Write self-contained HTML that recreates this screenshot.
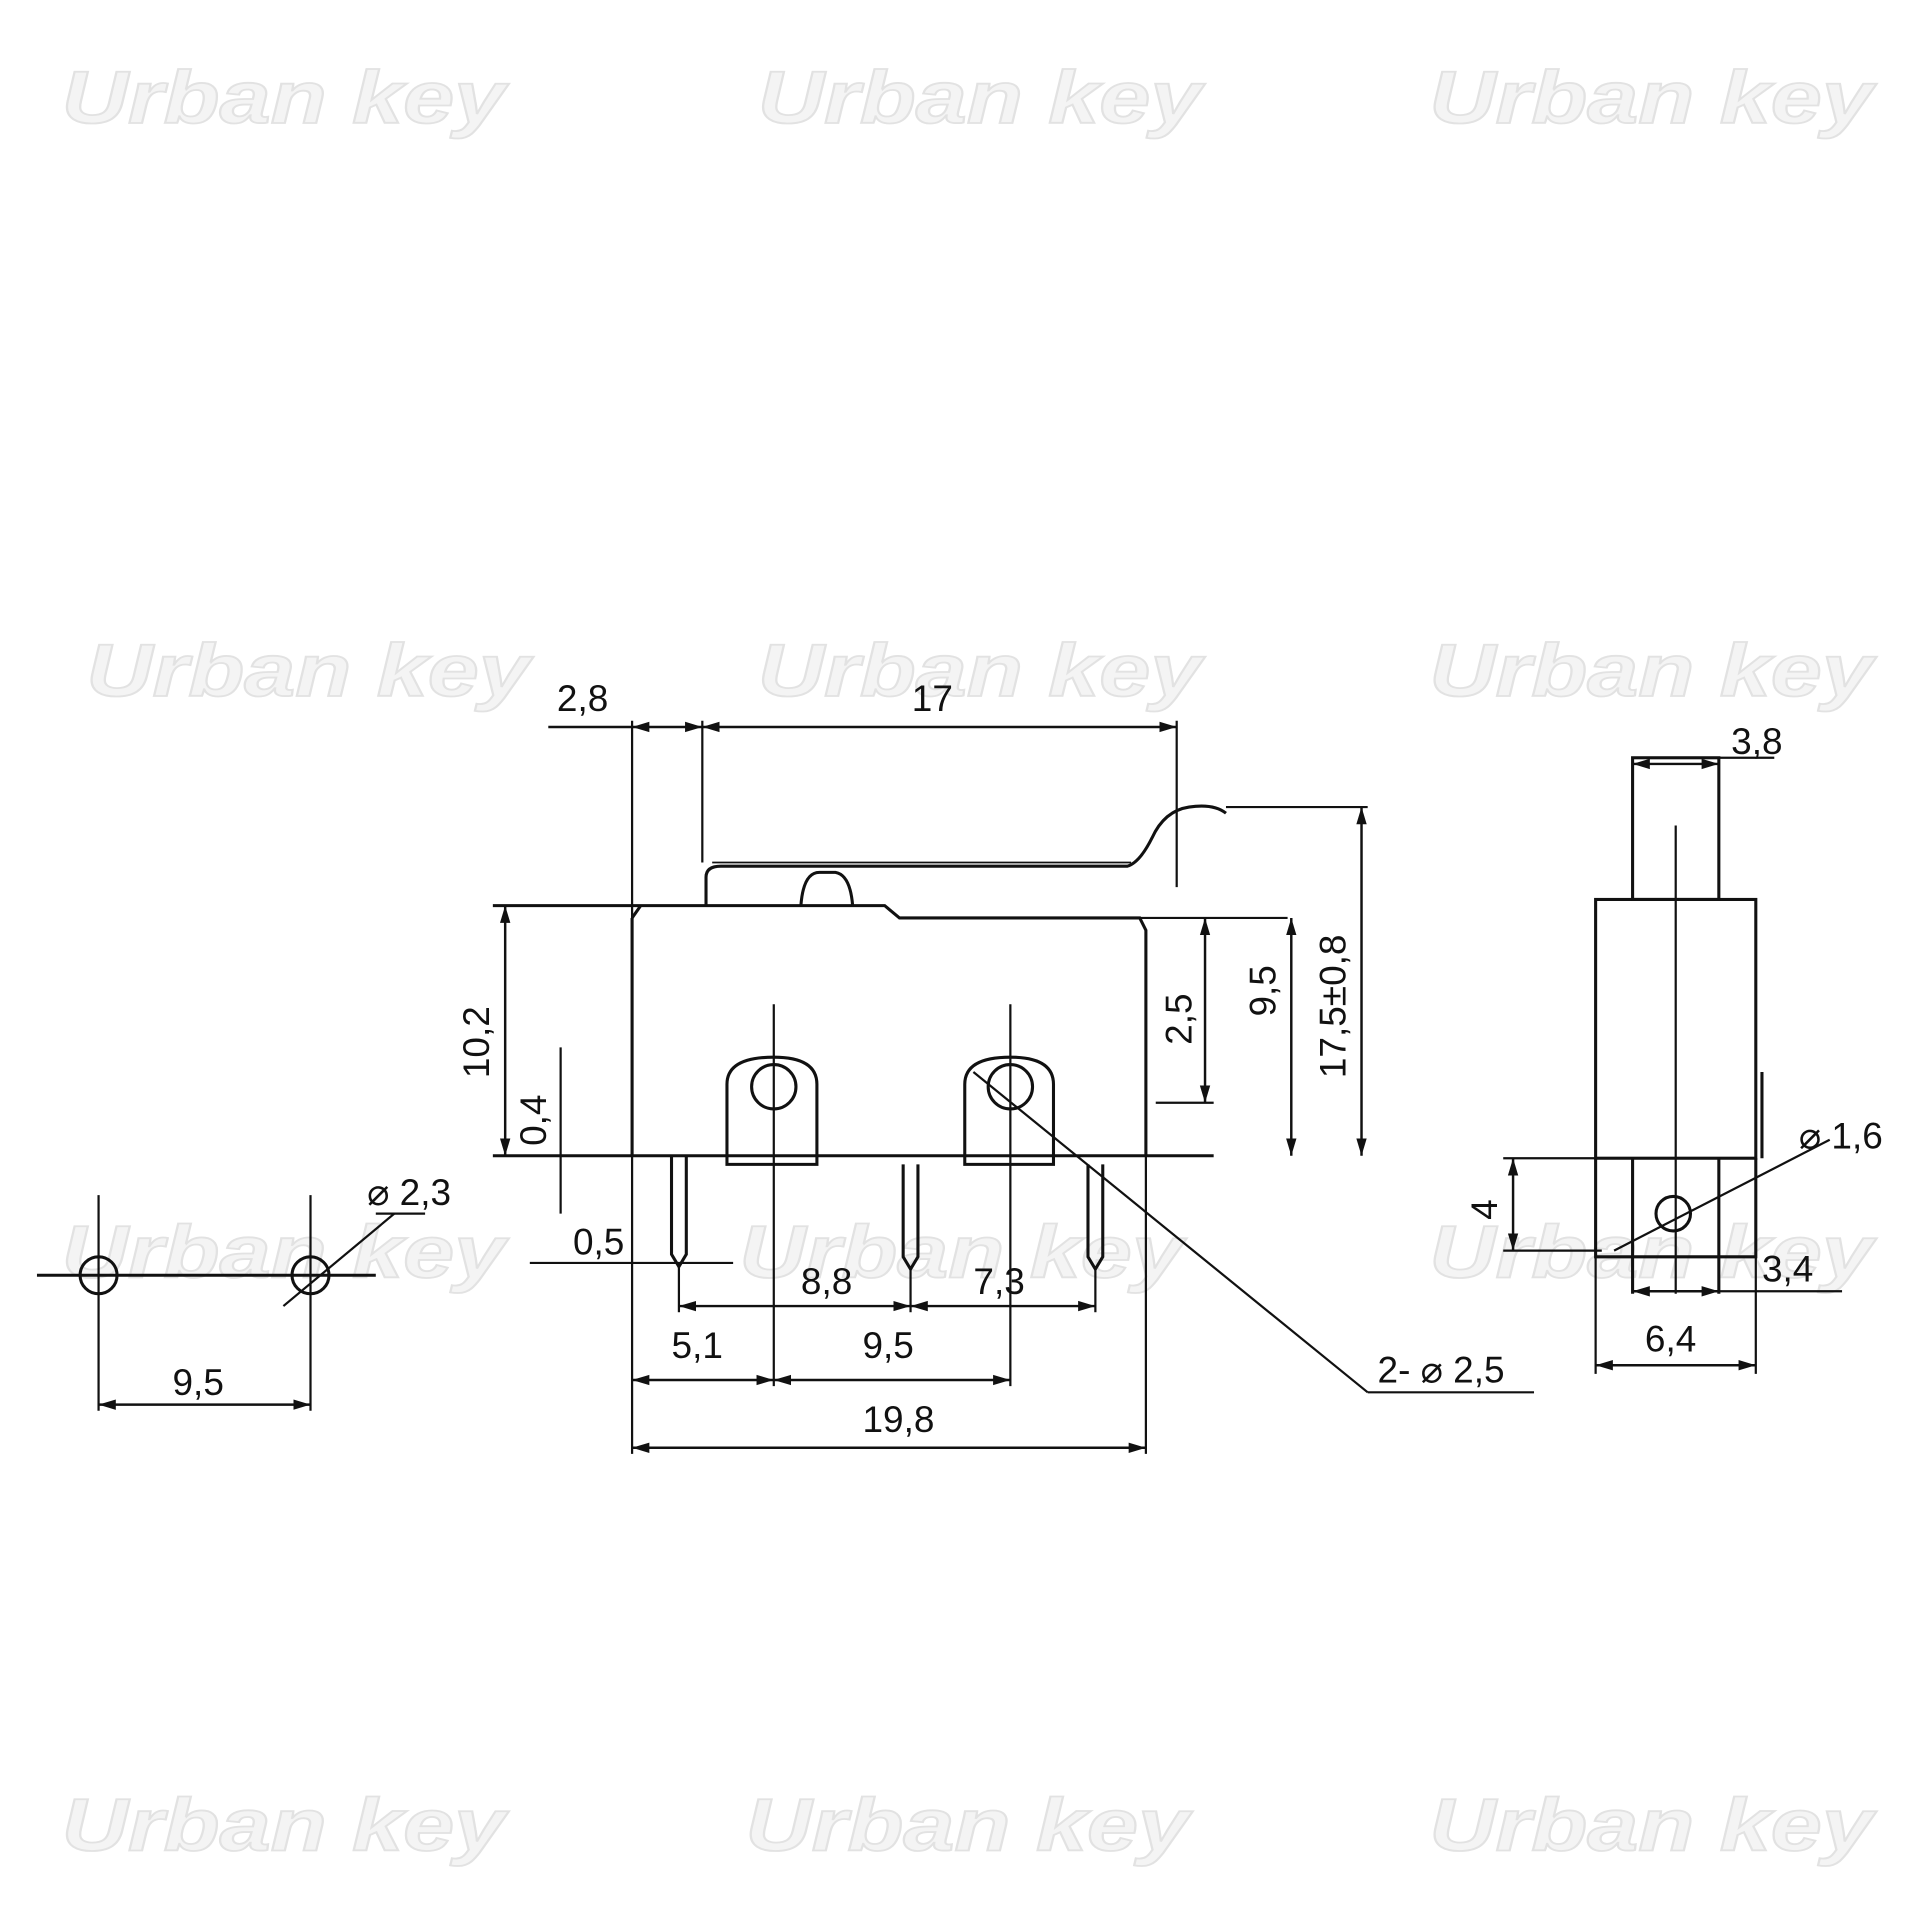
<!DOCTYPE html>
<html><head><meta charset="utf-8"><style>html,body{margin:0;padding:0;background:#fff}svg{display:block}</style></head>
<body>
<svg width="1932" height="1932" viewBox="0 0 1568 1568" xmlns="http://www.w3.org/2000/svg">
<defs>
<marker id="a" viewBox="0 0 10 10" refX="10" refY="5" markerWidth="7" markerHeight="7" orient="auto-start-reverse"><path d="M0,2 L10,5 L0,8 z" fill="#111"/></marker>
</defs>
<g font-family="Liberation Sans, sans-serif" font-weight="bold" font-style="italic" font-size="60" fill="#f4f4f4" stroke="#e2e2e2" stroke-width="1.5">
<text x="50" y="100" textLength="360" lengthAdjust="spacingAndGlyphs">Urban key</text><text x="615" y="100" textLength="360" lengthAdjust="spacingAndGlyphs">Urban key</text><text x="1160" y="100" textLength="360" lengthAdjust="spacingAndGlyphs">Urban key</text>
<text x="70" y="565" textLength="360" lengthAdjust="spacingAndGlyphs">Urban key</text><text x="615" y="565" textLength="360" lengthAdjust="spacingAndGlyphs">Urban key</text><text x="1160" y="565" textLength="360" lengthAdjust="spacingAndGlyphs">Urban key</text>
<text x="50" y="1037" textLength="360" lengthAdjust="spacingAndGlyphs">Urban key</text><text x="600" y="1037" textLength="360" lengthAdjust="spacingAndGlyphs">Urban key</text><text x="1160" y="1037" textLength="360" lengthAdjust="spacingAndGlyphs">Urban key</text>
<text x="50" y="1502" textLength="360" lengthAdjust="spacingAndGlyphs">Urban key</text><text x="605" y="1502" textLength="360" lengthAdjust="spacingAndGlyphs">Urban key</text><text x="1160" y="1502" textLength="360" lengthAdjust="spacingAndGlyphs">Urban key</text>
</g>
<g stroke="#111" stroke-width="2.5" fill="none">
<path d="M400,735 H718 L730,745 H925 L930,755 V938"/>
<path d="M513,745 L520,735"/>
<line x1="925" y1="745" x2="1045" y2="745" stroke-width="1.8"/>
<line x1="513" y1="745" x2="513" y2="938"/>
<line x1="400" y1="938" x2="985" y2="938"/>
<path d="M573,735 V712 Q573,703 585,703 H915 Q925,700 935,680 Q945,658 965,655 Q985,652 995,660"/>
<line x1="578" y1="700" x2="918" y2="700" stroke-width="1.5"/>
<path d="M650,735 Q652,708 665,708 H678 Q690,710 692,735"/>
<path d="M590,945 V880 Q590,858 628,858 Q663,858 663,880 V945 Z"/>
<circle cx="628" cy="882" r="18"/>
<path d="M783,945 V880 Q783,858 820,858 Q855,858 855,880 V945 Z"/>
<circle cx="820" cy="882" r="18"/>
<path d="M545,938 V1018 L551,1028 L557,1018 V938"/>
<path d="M733,945 V1020 L739,1030 L745,1020 V945"/>
<path d="M883,945 V1020 L889,1030 L895,1020 V945"/>
<g stroke-width="1.8">
<line x1="513" y1="585" x2="513" y2="1180"/>
<line x1="570" y1="585" x2="570" y2="700"/>
<line x1="955" y1="585" x2="955" y2="720"/>
<line x1="930" y1="938" x2="930" y2="1180"/>
<line x1="628" y1="815" x2="628" y2="1125"/>
<line x1="820" y1="815" x2="820" y2="1125"/>
<line x1="551" y1="1028" x2="551" y2="1065"/>
<line x1="739" y1="1030" x2="739" y2="1065"/>
<line x1="889" y1="1030" x2="889" y2="1065"/>
<line x1="995" y1="655" x2="1110" y2="655"/>
<line x1="938" y1="895" x2="985" y2="895"/>
<line x1="455" y1="850" x2="455" y2="985"/>
<line x1="430" y1="1025" x2="595" y2="1025"/>
<line x1="790" y1="870" x2="1110" y2="1130"/>
<line x1="1110" y1="1130" x2="1245" y2="1130"/>
</g>
<g stroke-width="2">
<line x1="445" y1="590" x2="513" y2="590"/>
<line x1="513" y1="590" x2="570" y2="590" marker-start="url(#a)" marker-end="url(#a)"/>
<line x1="570" y1="590" x2="955" y2="590" marker-start="url(#a)" marker-end="url(#a)"/>
<line x1="410" y1="735" x2="410" y2="938" marker-start="url(#a)" marker-end="url(#a)"/>
<line x1="978" y1="745" x2="978" y2="895" marker-start="url(#a)" marker-end="url(#a)"/>
<line x1="1048" y1="745" x2="1048" y2="938" marker-start="url(#a)" marker-end="url(#a)"/>
<line x1="1105" y1="655" x2="1105" y2="938" marker-start="url(#a)" marker-end="url(#a)"/>
<line x1="551" y1="1060" x2="739" y2="1060" marker-start="url(#a)" marker-end="url(#a)"/>
<line x1="739" y1="1060" x2="889" y2="1060" marker-start="url(#a)" marker-end="url(#a)"/>
<line x1="513" y1="1120" x2="628" y2="1120" marker-start="url(#a)" marker-end="url(#a)"/>
<line x1="628" y1="1120" x2="820" y2="1120" marker-start="url(#a)" marker-end="url(#a)"/>
<line x1="513" y1="1175" x2="930" y2="1175" marker-start="url(#a)" marker-end="url(#a)"/>
</g>
<rect x="1295" y="730" width="130" height="210"/>
<rect x="1325" y="615" width="70" height="115"/>
<path d="M1295,940 V1020 H1425 V940"/>
<line x1="1325" y1="940" x2="1325" y2="1050"/>
<line x1="1395" y1="940" x2="1395" y2="1050"/>
<line x1="1430" y1="870" x2="1430" y2="940"/>
<circle cx="1358" cy="985" r="14"/>
<g stroke-width="1.8">
<line x1="1360" y1="670" x2="1360" y2="1050"/>
<line x1="1325" y1="615" x2="1440" y2="615"/>
<line x1="1220" y1="940" x2="1295" y2="940"/>
<line x1="1220" y1="1015" x2="1300" y2="1015"/>
<line x1="1295" y1="1020" x2="1295" y2="1115"/>
<line x1="1425" y1="1020" x2="1425" y2="1115"/>
<line x1="1310" y1="1015" x2="1485" y2="925"/>
<line x1="1395" y1="1048" x2="1495" y2="1048"/>
</g>
<g stroke-width="2">
<line x1="1325" y1="620" x2="1395" y2="620" marker-start="url(#a)" marker-end="url(#a)"/>
<line x1="1228" y1="940" x2="1228" y2="1015" marker-start="url(#a)" marker-end="url(#a)"/>
<line x1="1325" y1="1048" x2="1395" y2="1048" marker-start="url(#a)" marker-end="url(#a)"/>
<line x1="1295" y1="1108" x2="1425" y2="1108" marker-start="url(#a)" marker-end="url(#a)"/>
</g>
<line x1="30" y1="1035" x2="305" y2="1035"/>
<circle cx="80" cy="1035" r="15"/>
<circle cx="252" cy="1035" r="15"/>
<g stroke-width="1.8">
<line x1="80" y1="970" x2="80" y2="1145"/>
<line x1="252" y1="970" x2="252" y2="1145"/>
<line x1="230" y1="1060" x2="320" y2="985"/>
<line x1="305" y1="985" x2="345" y2="985"/>
</g>
<line x1="80" y1="1140" x2="252" y2="1140" stroke-width="2" marker-start="url(#a)" marker-end="url(#a)"/>
</g>
<g font-family="Liberation Sans, DejaVu Sans, sans-serif" font-size="30" fill="#111">
<text x="452" y="577">2,8</text>
<text x="740" y="577">17</text>
<text x="1405" y="612">3,8</text>
<text x="465" y="1018">0,5</text>
<text x="650" y="1050">8,8</text>
<text x="790" y="1050">7,3</text>
<text x="545" y="1102">5,1</text>
<text x="700" y="1102">9,5</text>
<text x="700" y="1162">19,8</text>
<text x="1118" y="1122">2- ⌀ 2,5</text>
<text x="140" y="1132">9,5</text>
<text x="298" y="978">⌀ 2,3</text>
<text x="1460" y="932">⌀ 1,6</text>
<text x="1430" y="1040">3,4</text>
<text x="1335" y="1097">6,4</text>
<text transform="translate(397,875) rotate(-90)">10,2</text>
<text transform="translate(443,930) rotate(-90)">0,4</text>
<text transform="translate(967,848) rotate(-90)">2,5</text>
<text transform="translate(1035,825) rotate(-90)">9,5</text>
<text transform="translate(1092,875) rotate(-90)">17,5±0,8</text>
<text transform="translate(1215,990) rotate(-90)">4</text>
</g>
</svg>
</body></html>
